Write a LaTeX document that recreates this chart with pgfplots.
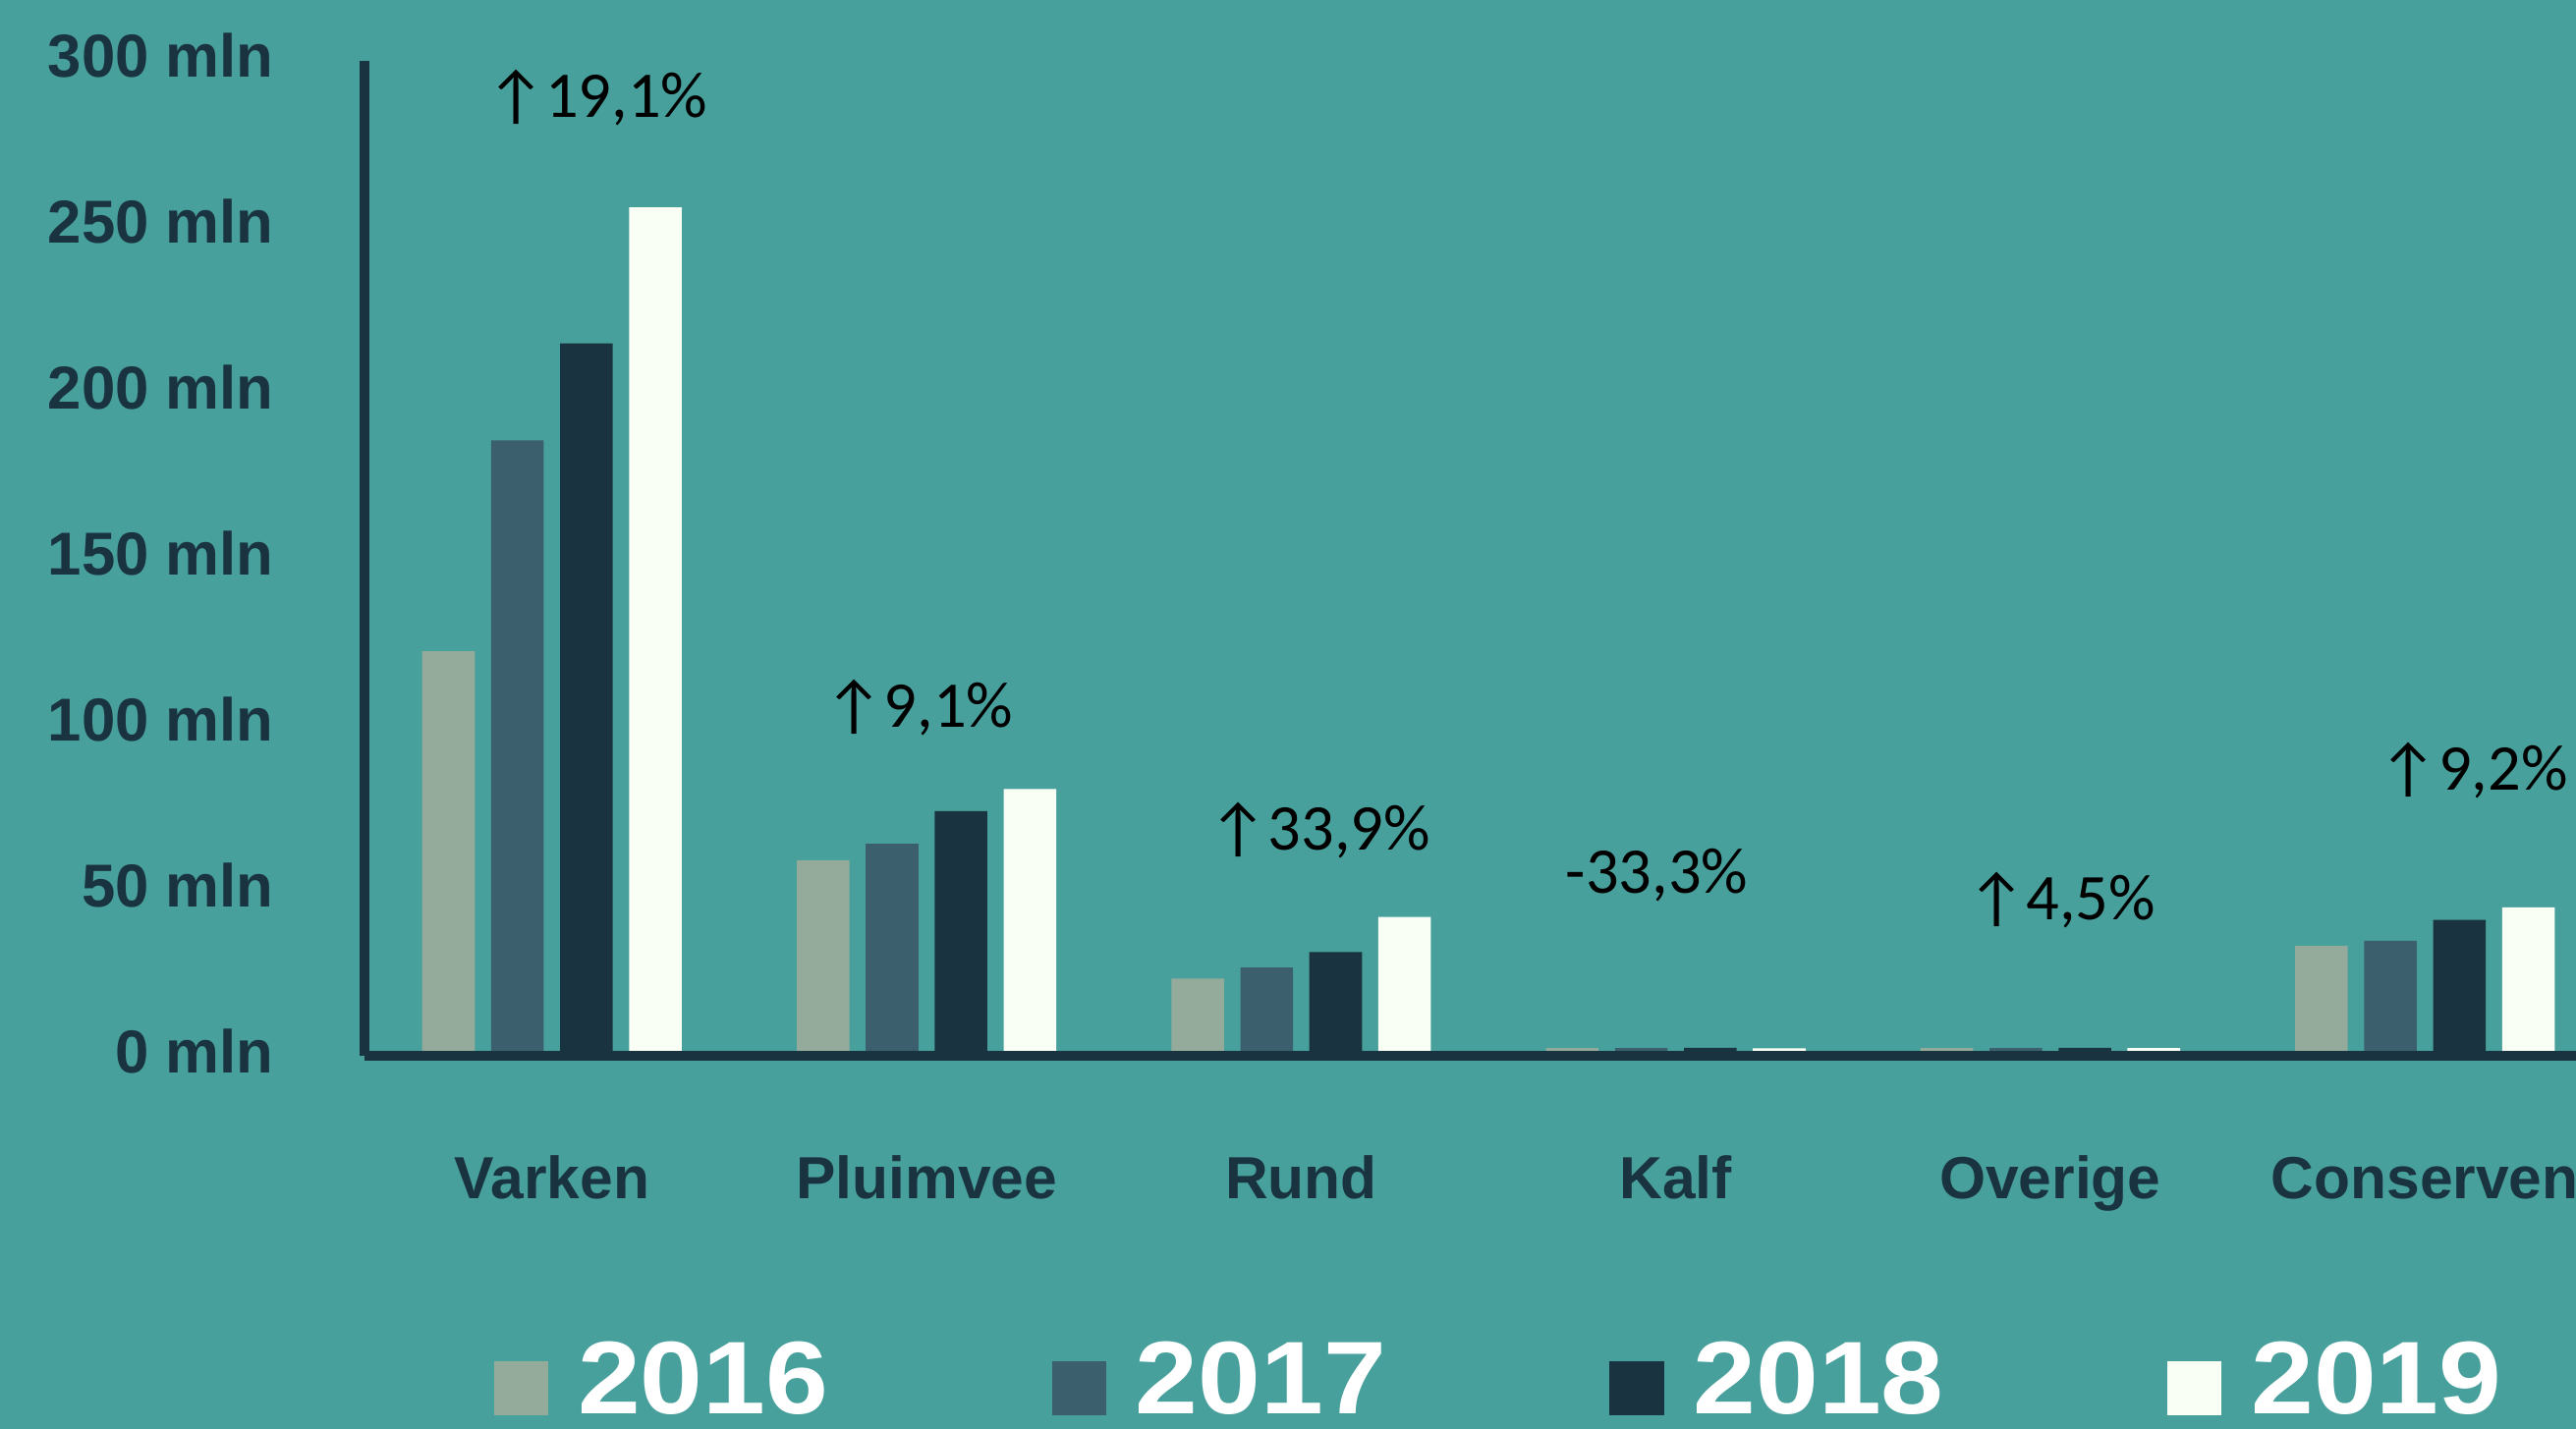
\documentclass[border=0pt]{standalone}
\usepackage{pgfplots}
\pgfplotsset{compat=1.18}
\usepackage{fontspec}
\setmainfont{Liberation Sans}
\newfontfamily\carlito{Carlito}
\newfontfamily\legfont[FakeStretch=1.09]{Liberation Sans}

\definecolor{bg}{HTML}{48A09C}
\definecolor{ink}{HTML}{1A3340}
\definecolor{c2016}{HTML}{94AA9B}
\definecolor{c2017}{HTML}{3C5F6E}
\definecolor{c2018}{HTML}{1A3340}
\definecolor{c2019}{HTML}{FAFFF5}

\begin{document}
\begin{tikzpicture}
\path[use as bounding box] (0,0) rectangle (15.68,8.70);
\clip (0,0) rectangle (15.68,8.70);
\fill[bg] (0,0) rectangle (15.68,8.70);

\begin{axis}[
  at={(2.22cm,2.27cm)}, anchor=south west,
  scale only axis, width=13.68cm, height=6.06cm,
  xmin=-0.5, xmax=5.5, ymin=0, ymax=300,
  enlargelimits=false,
  axis x line*=bottom, axis y line*=left,
  axis line style={ink, line width=1.7pt, -},
  axis on top,
  major tick length=0pt,
  ybar=0.1cm, bar width=0.32cm,
  xtick={0,...,5},
  xticklabels={Varken,Pluimvee,Rund,Kalf,Overige,Conserven},
  xticklabel style={anchor=base, yshift=-0.87cm,
    font=\fontsize{10.3}{12}\selectfont\bfseries, text=ink},
  ytick={0,50,100,150,200,250,300},
  yticklabels={0 mln,50 mln,100 mln,150 mln,200 mln,250 mln,300 mln},
  yticklabel style={anchor=east, xshift=-0.43cm, yshift=0.03cm,
    font=\fontsize{10.5}{12}\selectfont\bfseries, text=ink},
  legend columns=4,
  legend image code/.code={%
    \draw[#1, draw=none] (0cm,-0.20cm) rectangle (0.33cm,0.13cm);
    \path (0.51cm,0cm);},
  legend style={
    at={(0.057,-0.328)}, anchor=west,
    draw=none, fill=none, inner sep=0pt,
    font=\legfont\fontsize{17.9}{18}\selectfont\bfseries, text=white,
    nodes={inner sep=0pt},
    /tikz/every even column/.append style={column sep=1.36cm},
  },
]

% ── bars per year ──────────────────────────────────────────
\addplot[fill=c2016, draw=none] coordinates {
  (0,122) (1,59) (2,23.3) (3,2.4) (4,2.4) (5,33.2)};
\addlegendentry{2016}
\addplot[fill=c2017, draw=none] coordinates {
  (0,185.6) (1,64) (2,26.7) (3,2.4) (4,2.4) (5,34.7)};
\addlegendentry{2017}
\addplot[fill=c2018, draw=none] coordinates {
  (0,214.8) (1,73.8) (2,31.3) (3,2.5) (4,2.5) (5,41)};
\addlegendentry{2018}
\addplot[fill=c2019, draw=none] coordinates {
  (0,255.8) (1,80.5) (2,41.9) (3,2.3) (4,2.4) (5,44.8)};
\addlegendentry{2019}

% ── change 2018 -> 2019 ───────────────────────────────────
\tikzset{pct/.style={anchor=base, inner sep=0pt, text=black,
  font=\carlito\fontsize{11.3}{13}\selectfont}}
\node[pct] at (axis cs:0.12,283) {↑19,1\%};
\node[pct] at (axis cs:0.98,99) {↑9,1\%};
\node[pct] at (axis cs:2.05,62) {↑33,9\%};
\node[pct] at (axis cs:2.95,49) {-33,3\%};
\node[pct] at (axis cs:4.03,41) {↑4,5\%};
\node[pct] at (axis cs:5.13,80) {↑9,2\%};

\end{axis}
\end{tikzpicture}
\end{document}
